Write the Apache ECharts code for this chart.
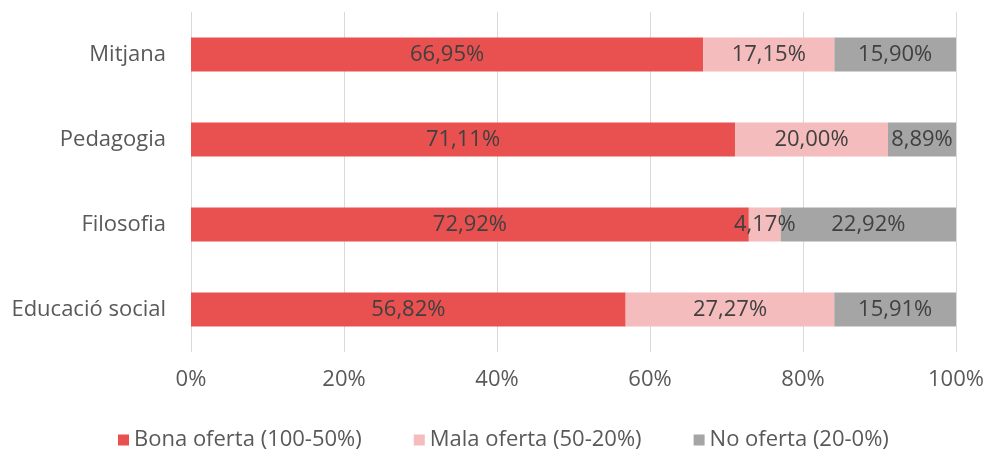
<!DOCTYPE html>
<html>
<head>
<meta charset="utf-8">
<script src="https://cdn.jsdelivr.net/npm/echarts@6/dist/echarts.min.js"></script>
<style>
html, body { margin: 0; padding: 0; background: #fff; }
#main { width: 988px; height: 455px; }
</style>
</head>
<body>
<div id="main"></div>
<script>
var categories = ['Educació social', 'Filosofia', 'Pedagogia', 'Mitjana'];
var bona = [56.82, 72.92, 71.11, 66.95];
var mala = [27.27, 4.17, 20.00, 17.15];
var noOferta = [15.91, 22.92, 8.89, 15.90];
var seriesNames = ['Bona oferta (100-50%)', 'Mala oferta (50-20%)', 'No oferta (20-0%)'];
var colors = ['#E8514F', '#F4BCBC', '#A5A5A5'];

var font = '"Open Sans", "Noto Sans", sans-serif';
var chart = echarts.init(document.getElementById('main'));

function fmt(p) {
    return p.value.toFixed(2).replace('.', ',') + '%';
}

function makeSeries(name, data, color) {
    return {
        name: name,
        type: 'bar',
        stack: 'total',
        barWidth: 34,
        data: data,
        itemStyle: { color: color },
        label: {
            show: true,
            position: 'inside',
            formatter: fmt,
            color: '#404040',
            fontFamily: font,
            fontSize: 22
        }
    };
}

option = {
    animation: false,
    textStyle: { fontFamily: font },
    color: colors,
    legend: {
        bottom: 4,
        left: 113,
        padding: [0, 5],
        itemWidth: 11,
        itemHeight: 11,
        itemGap: 52,
        icon: 'rect',
        textStyle: { color: '#595959', fontSize: 22, fontFamily: font },
        data: seriesNames
    },
    grid: {
        left: 191,
        right: 32,
        top: 12,
        bottom: 103
    },
    xAxis: {
        type: 'value',
        min: 0,
        max: 100,
        interval: 20,
        axisLine: { show: false },
        axisTick: { show: false },
        splitLine: { show: true, lineStyle: { color: '#D9D9D9', width: 1 } },
        axisLabel: {
            color: '#595959',
            fontSize: 22,
            fontFamily: font,
            margin: 17,
            formatter: '{value}%'
        }
    },
    yAxis: {
        type: 'category',
        data: categories,
        axisLine: { show: false },
        axisTick: { show: false },
        axisLabel: {
            color: '#595959',
            fontSize: 22,
            fontFamily: font,
            margin: 25
        }
    },
    series: [
        makeSeries(seriesNames[0], bona, colors[0]),
        makeSeries(seriesNames[1], mala, colors[1]),
        makeSeries(seriesNames[2], noOferta, colors[2])
    ]
};
chart.setOption(option);
</script>
</body>
</html>
